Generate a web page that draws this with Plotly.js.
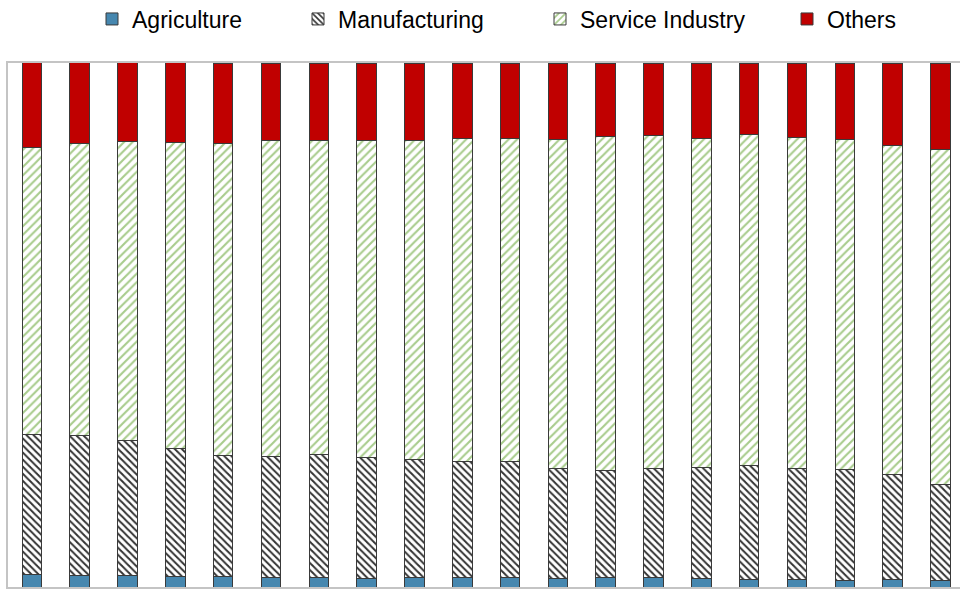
<!DOCTYPE html>
<html>
<head>
<meta charset="utf-8">
<script src="https://cdn.plot.ly/plotly-3.0.1.min.js"></script>
<style>html,body{margin:0;padding:0;background:#fff;}#chart{width:960px;height:589px;}</style>
</head>
<body>
<div id="chart"></div>
<script>
const categories = ['1','2','3','4','5','6','7','8','9','10','11','12','13','14','15','16','17','18','19','20'];
const agriculture = [2.42,2.23,2.23,2.04,1.97,1.85,1.85,1.66,1.85,1.85,1.72,1.66,1.72,1.72,1.53,1.47,1.47,1.28,1.39,1.28];
const manufacturing = [26.6,26.6,25.7,24.3,23.2,23.15,23.35,23.14,22.55,22.15,22.28,20.94,20.58,20.98,21.27,21.63,21.23,21.22,20.01,18.22];
const service = [54.9,55.9,57.0,58.4,59.4,60.2,60.0,60.4,60.9,61.6,61.6,62.8,63.6,63.5,62.8,63.2,63.0,62.9,62.9,64.0];
const others = [16.1,15.3,15.1,15.3,15.4,14.8,14.8,14.8,14.7,14.4,14.4,14.6,14.1,13.8,14.4,13.7,14.3,14.6,15.7,16.5];

const outline = {color:'#3a3a3a', width:1};
const traces = [
  {type:'bar', name:'Agriculture', x:categories, y:agriculture, legend:'legend',
   marker:{color:'#4687AF', line:outline}},
  {type:'bar', name:'Manufacturing', x:categories, y:manufacturing, legend:'legend2',
   marker:{color:'#ffffff', line:outline, pattern:{shape:'\\', fgcolor:'#333333', bgcolor:'#ffffff', size:5, solidity:0.4}}},
  {type:'bar', name:'Service Industry', x:categories, y:service, legend:'legend3',
   marker:{color:'#ffffff', line:outline, pattern:{shape:'/', fgcolor:'#A8CC8C', bgcolor:'#ffffff', size:6, solidity:0.35}}},
  {type:'bar', name:'Others', x:categories, y:others, legend:'legend4',
   marker:{color:'#C00000', line:outline}}
];

function leg(px){
  return {orientation:'h', xref:'container', yref:'container', x:px/960, xanchor:'left',
          y:1-19/589, yanchor:'middle', font:{family:'Liberation Sans, Arial, sans-serif', size:23, color:'#000'},
          bgcolor:'rgba(0,0,0,0)', borderwidth:0, tracegroupgap:0};
}

const layout = {
  width:960, height:589,
  margin:{l:8, r:0, t:63, b:2, pad:0},
  paper_bgcolor:'#ffffff', plot_bgcolor:'#ffffff',
  barmode:'stack', bargap:0.592,
  showlegend:true,
  legend:leg(92), legend2:leg(298), legend3:leg(540), legend4:leg(787),
  xaxis:{type:'category', range:[-0.5,19.41], showticklabels:false, ticks:'', showgrid:false, zeroline:false,
         showline:true, mirror:true, linecolor:'#C4C4C4', linewidth:2, fixedrange:true},
  yaxis:{range:[0,100], showticklabels:false, ticks:'', showgrid:false, zeroline:false,
         showline:true, mirror:false, linecolor:'#C4C4C4', linewidth:2, fixedrange:true},
  font:{family:'Liberation Sans, Arial, sans-serif'}
};

Plotly.newPlot('chart', traces, layout, {displayModeBar:false, staticPlot:true});
</script>
</body>
</html>
